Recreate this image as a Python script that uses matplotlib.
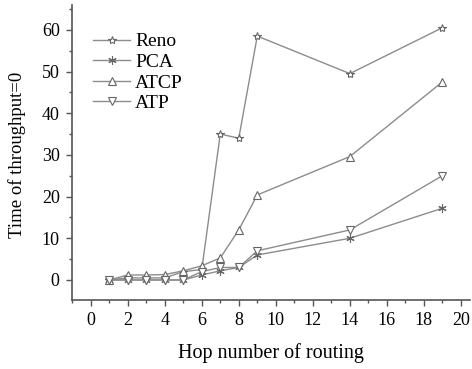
import matplotlib
import matplotlib.pyplot as plt
from matplotlib.ticker import MultipleLocator

matplotlib.use('Agg')
plt.rcParams['font.family'] = 'Liberation Serif'

hops = [1, 2, 3, 4, 5, 6, 7, 8, 9, 14, 19]
reno = [0, 0.5, 0.5, 0.5, 2, 2.5, 35, 34, 58.5, 49.5, 60.5]
pca = [0, 0, 0, 0, 0, 1.2, 2.2, 3, 6, 10, 17.2]
atcp = [0, 1.2, 1.2, 1.3, 2.2, 3.4, 5.3, 12, 20.4, 29.6, 47.5]
atp = [0, 0, 0, 0, 0, 2, 3, 3, 7, 12, 25]

series = [
    ("Reno", reno, '*'),
    ("PCA", pca, (6, 2, 0)),
    ("ATCP", atcp, '^'),
    ("ATP", atp, 'v'),
]

fig = plt.figure(figsize=(4.72, 3.69), dpi=100)
ax = fig.add_axes([0.153, 0.187, 0.843, 0.8])

for name, vals, mk in series:
    ax.plot(hops, vals, color='#8c8c8c', lw=1.0, marker=mk, markersize=6,
            markerfacecolor='white', markeredgecolor='#666666',
            markeredgewidth=0.8, label=name)

ax.set_xlim(-1, 20.5)
ax.set_ylim(-4.8, 66)
ax.xaxis.set_major_locator(MultipleLocator(2))
ax.xaxis.set_minor_locator(MultipleLocator(1))
ax.yaxis.set_major_locator(MultipleLocator(10))
ax.yaxis.set_minor_locator(MultipleLocator(5))

for side in ('top', 'right'):
    ax.spines[side].set_visible(False)
for side in ('left', 'bottom'):
    ax.spines[side].set_color('#555555')
    ax.spines[side].set_linewidth(1.2)

ax.tick_params(which='major', direction='out', length=4, width=1,
               color='#555555', labelsize=13, pad=5)
ax.tick_params(which='minor', direction='out', length=2.5, width=1,
               color='#555555')

ax.set_xlabel("Hop number of routing", fontsize=14.5, labelpad=10)
ax.set_ylabel("Time of throughput=0", fontsize=13.5)
ax.yaxis.set_label_coords(-0.115, 0.49)

ax.legend(loc='upper left', bbox_to_anchor=(0.053, 0.905), frameon=False,
          fontsize=14, handlelength=1.9, handletextpad=0.25,
          labelspacing=0.15, borderaxespad=0.0, borderpad=0.0)

fig.savefig('out.png', dpi=100)
